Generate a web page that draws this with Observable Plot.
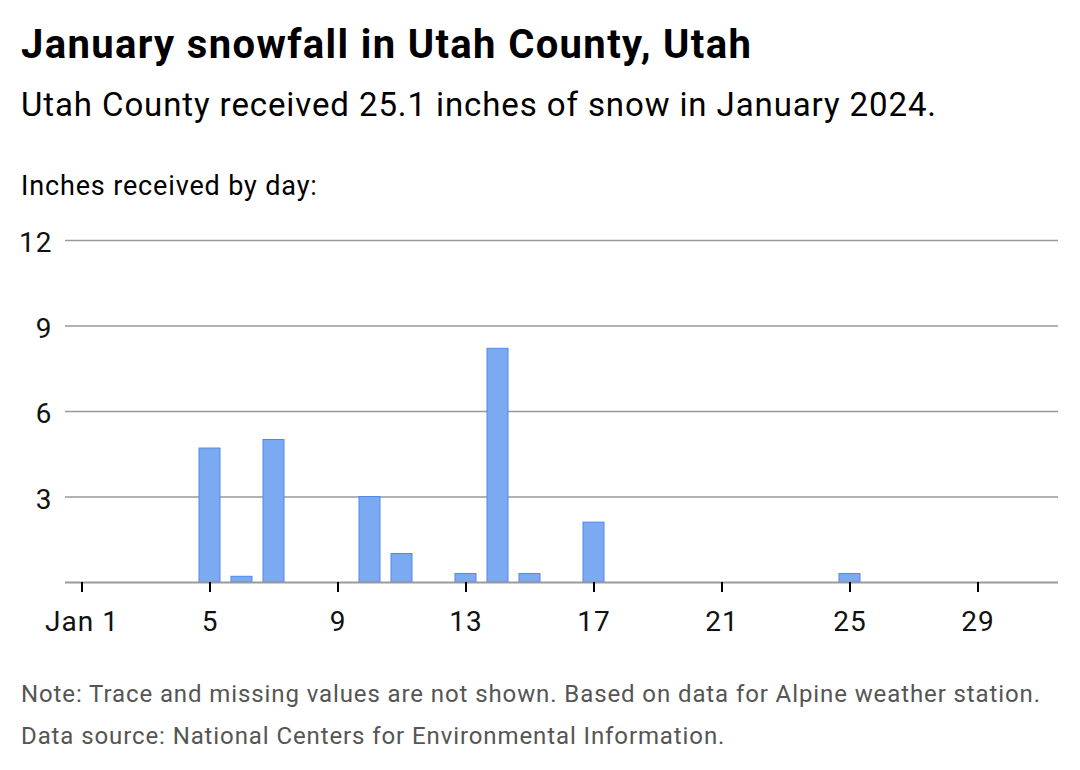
<!DOCTYPE html>
<html>
<head>
<meta charset="utf-8">
<script src="https://cdn.jsdelivr.net/npm/d3@7"></script>
<script src="https://cdn.jsdelivr.net/npm/@observablehq/plot@0.6"></script>
<style>
  html, body { margin: 0; padding: 0; background: #fff; }
  body { width: 1080px; height: 770px; position: relative; font-family: Roboto, "Noto Sans", sans-serif; color: #000; overflow: hidden; }
  .t { position: absolute; left: 21px; white-space: nowrap; }
  #title { top: 22px; font-size: 40px; line-height: 46px; font-weight: 700; letter-spacing: 1.35px; }
  #subtitle { top: 86px; font-size: 33px; line-height: 38px; letter-spacing: 0.9px; }
  #ylabel { top: 170px; font-size: 27px; line-height: 32px; letter-spacing: 0.85px; }
  #chart { position: absolute; left: 0; top: 220px; }
  #footer { top: 673px; font-size: 24px; line-height: 42px; color: #555; letter-spacing: 0.9px; }
  #chart svg text { letter-spacing: 1px; }
</style>
</head>
<body>
<div class="t" id="title">January snowfall in Utah County, Utah</div>
<div class="t" id="subtitle">Utah County received 25.1 inches of snow in January 2024.</div>
<div class="t" id="ylabel">Inches received by day:</div>
<div id="chart"></div>
<div class="t" id="footer">Note: Trace and missing values are not shown. Based on data for Alpine weather station.<br>Data source: National Centers for Environmental Information.</div>
<script>
const days = [1,2,3,4,5,6,7,8,9,10,11,12,13,14,15,16,17,18,19,20,21,22,23,24,25,26,27,28,29,30,31];
const snowDays = [5, 6, 7, 10, 11, 13, 14, 15, 17, 25];
const snowInches = [4.7, 0.2, 5.0, 3.0, 1.0, 0.3, 8.2, 0.3, 2.1, 0.3];
const xTicks = [1, 5, 9, 13, 17, 21, 25, 29];
const xTickLabels = ["Jan 1", "5", "9", "13", "17", "21", "25", "29"];
const yTicks = [3, 6, 9, 12];

const data = snowDays.map((d, i) => ({day: d, inches: snowInches[i]}));

const chart = Plot.plot({
  width: 1080,
  height: 430,
  marginTop: 20,
  marginBottom: 68,
  marginLeft: 65,
  marginRight: 22,
  style: {fontFamily: "Roboto", fontSize: "28px", color: "#111", background: "white"},
  x: {type: "band", domain: days, paddingInner: 0.35, paddingOuter: 0.175},
  y: {domain: [0, 12]},
  marks: [
    Plot.ruleY(yTicks, {stroke: "#999", strokeWidth: 1.5}),
    Plot.barY(data, {x: "day", y: "inches", fill: "#7baaf0", stroke: "#4a8af0", strokeWidth: 1}),
    Plot.ruleY([0], {stroke: "#999", strokeWidth: 2}),
    Plot.axisX({ticks: xTicks, tickFormat: d => xTickLabels[xTicks.indexOf(d)], tickSize: 10, tickPadding: 19, stroke: "#000", strokeWidth: 2, strokeOpacity: 1, label: null, fill: "#111"}),
    Plot.axisY({ticks: yTicks, tickSize: 0, tickPadding: 13, label: null, dy: 3, fill: "#111"})
  ]
});
document.getElementById("chart").appendChild(chart);
</script>
</body>
</html>
